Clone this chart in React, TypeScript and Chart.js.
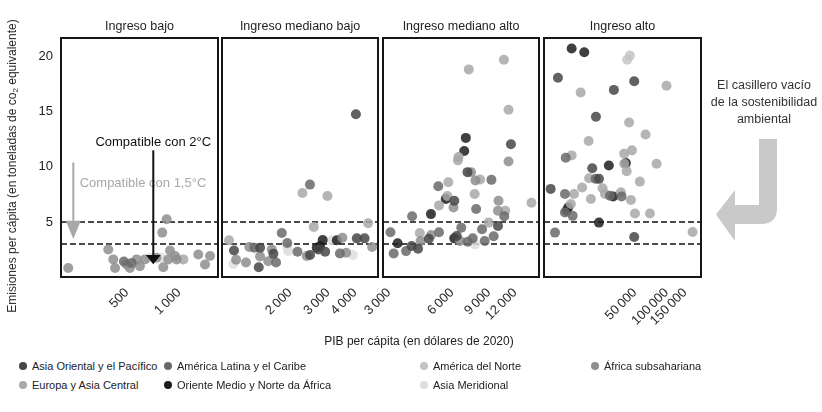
import React, { useEffect, useRef } from 'react';
import { Chart, registerables } from 'chart.js';
Chart.register(...registerables);

const FONT = '"Liberation Sans", Arial, Helvetica, sans-serif';

const REGIONS = [
  'Asia Oriental y el Pacífico',
  'América Latina y el Caribe',
  'América del Norte',
  'África subsahariana',
  'Europa y Asia Central',
  'Oriente Medio y Norte da África',
  'Asia Meridional',
];
const REGION_COLORS = ['#474747', '#6a6a6a', '#c4c4c4', '#8e8e8e', '#a8a8a8', '#1e1e1e', '#dedede'];

const PANEL_TITLES = ['Ingreso bajo', 'Ingreso mediano bajo', 'Ingreso mediano alto', 'Ingreso alto'];
const X_MIN = [208, 968, 2810, 6800];
const X_MAX = [1679, 5100, 15600, 213000];
const X_TICKS = [
  [500, 1000],
  [2000, 3000, 4000],
  [3000, 6000, 9000, 12000],
  [50000, 100000, 150000],
];
const Y_TICKS = [5, 10, 15, 20];
const Y_MIN = 0;
const Y_MAX = 21.7;
const THRESHOLDS = [3, 5];

// Ingreso bajo
const BAJO_GDP = [229, 848, 800, 390, 417, 427, 498, 532, 569, 520, 594, 635, 679, 740, 793, 811, 887, 867, 949, 969, 1059, 1292, 1510, 1413, 480];
const BAJO_EMI = [0.82, 5.25, 4.03, 2.5, 1.6, 0.82, 1.13, 1.28, 1.6, 0.82, 0.98, 1.6, 1.74, 1.75, 1.74, 0.89, 2.41, 1.6, 1.9, 1.6, 1.6, 2.05, 1.9, 1.13, 1.4];
const BAJO_REG = [3, 3, 3, 3, 3, 3, 3, 1, 3, 3, 3, 3, 6, 3, 6, 3, 3, 3, 3, 3, 4, 3, 3, 3, 1];

// Ingreso mediano bajo
const MBAJO_GDP = [4030, 2280, 2470, 2976, 2573, 4590, 4790, 1830, 1940, 1940, 1043, 1100, 1125, 1092, 1250, 1295, 1367, 1452, 1452, 1432, 1585, 1645, 1674, 1722, 1960, 2163, 2388, 2473, 2655, 2752, 2830, 2700, 2905, 3120, 3290, 3490, 3400, 3630, 3900, 4070, 4420];
const MBAJO_EMI = [14.77, 7.63, 8.39, 7.35, 4.55, 4.88, 2.72, 4.0, 3.08, 2.72, 3.33, 2.41, 1.56, 1.19, 1.32, 2.72, 2.65, 2.65, 1.87, 0.89, 1.44, 2.5, 2.1, 1.32, 2.35, 2.29, 1.9, 1.99, 2.65, 2.81, 3.36, 2.5, 2.29, 3.33, 3.33, 3.57, 2.14, 2.2, 1.99, 3.51, 3.51];
const MBAJO_REG = [0, 4, 1, 4, 4, 4, 3, 1, 1, 6, 4, 0, 3, 6, 3, 3, 1, 0, 3, 0, 3, 3, 0, 1, 6, 1, 3, 0, 5, 5, 5, 0, 0, 6, 5, 3, 1, 3, 6, 0, 0];

// Ingreso mediano alto
const MALTO_GDP = [10610, 7210, 11160, 11460, 6980, 6860, 6440, 6400, 11160, 7110, 7390, 7760, 8170, 9250, 5760, 5160, 7690, 5700, 5600, 5200, 6150, 6100, 7820, 10000, 9940, 10770, 10650, 14360, 4760, 3870, 3050, 4210, 3300, 3160, 3620, 3850, 4130, 4250, 4650, 4770, 5200, 6150, 6320, 6640, 6560, 7130, 7530, 7730, 8340, 8970, 8590, 9480, 9940];
const MALTO_EMI = [19.73, 18.85, 15.19, 12.05, 12.63, 11.44, 10.89, 10.59, 10.49, 9.52, 9.52, 8.76, 8.85, 8.82, 8.6, 8.24, 7.54, 7.36, 7.08, 6.5, 6.93, 6.31, 6.17, 6.93, 6.01, 6.01, 5.52, 6.74, 5.71, 5.52, 4.06, 4.0, 3.06, 2.14, 2.35, 2.81, 2.56, 3.27, 3.48, 3.81, 4.06, 3.51, 3.72, 4.48, 3.27, 3.2, 3.51, 2.96, 4.34, 4.94, 3.27, 3.7, 4.64];
const MALTO_REG = [4, 4, 4, 0, 5, 5, 4, 4, 3, 0, 3, 3, 4, 1, 4, 1, 4, 4, 5, 4, 0, 3, 1, 3, 3, 4, 1, 4, 5, 1, 1, 4, 5, 1, 1, 0, 0, 3, 0, 3, 1, 5, 0, 1, 3, 1, 1, 6, 1, 4, 1, 1, 0];

// Ingreso alto
const ALTO_GDP = [12470, 16450, 44800, 42200, 9230, 49200, 31500, 15200, 100000, 21250, 44000, 63100, 18100, 10950, 12470, 46800, 39500, 41000, 39500, 41700, 80400, 28200, 19600, 18300, 21100, 22700, 55700, 7870, 10760, 13130, 15700, 24600, 25900, 28900, 31000, 36750, 37300, 45800, 19040, 12270, 11560, 10760, 11160, 12740, 50000, 69500, 22700, 8650, 49200, 177000];
const ALTO_EMI = [20.74, 20.4, 20.1, 19.73, 18.09, 17.78, 16.99, 16.75, 17.36, 14.55, 14.03, 12.94, 12.35, 10.83, 11.04, 11.5, 11.2, 10.34, 10.28, 9.6, 10.28, 10.13, 9.88, 8.97, 8.91, 8.91, 8.66, 8.0, 7.54, 7.54, 8.12, 8.05, 7.54, 7.38, 7.32, 7.69, 7.32, 6.99, 7.08, 6.62, 6.31, 5.86, 6.01, 5.55, 5.76, 5.76, 4.94, 4.03, 3.63, 4.09];
const ALTO_REG = [5, 5, 2, 2, 0, 0, 0, 4, 4, 0, 4, 4, 4, 1, 4, 4, 4, 5, 4, 4, 4, 5, 0, 4, 1, 0, 4, 0, 1, 4, 4, 4, 4, 1, 5, 4, 1, 4, 4, 4, 5, 1, 5, 1, 4, 4, 5, 1, 0, 4];

const PANEL_GDP = [BAJO_GDP, MBAJO_GDP, MALTO_GDP, ALTO_GDP];
const PANEL_EMI = [BAJO_EMI, MBAJO_EMI, MALTO_EMI, ALTO_EMI];
const PANEL_REG = [BAJO_REG, MBAJO_REG, MALTO_REG, ALTO_REG];

// Annotations in the first panel (data coordinates)
const ANN_15_X = 245;
const ANN_15_TOP = 10.4;
const ANN_15_BASE = 5.1;
const ANN_15_TIP = 3.45;
const ANN_15_TEXT = 'Compatible con 1,5°C';
const ANN_15_TEXT_X = 619;
const ANN_15_TEXT_Y = 8.48;
const ANN_2_X = 710;
const ANN_2_TOP = 11.5;
const ANN_2_BASE = 2.0;
const ANN_2_TIP = 1.16;
const ANN_2_TEXT = 'Compatible con 2°C';
const ANN_2_TEXT_Y = 12.2;

// Panel canvas placement
const CANVAS_LEFT = [0, 182, 343, 504];
const CANVAS_PAD_LEFT = [0, 40, 40, 40];
const CANVAS_WIDTH = [230, 208, 208, 209];
const CANVAS_HEIGHT = 340;

function rgba(hex: string, a: number) {
  const n = parseInt(hex.slice(1), 16);
  return `rgba(${(n >> 16) & 255},${(n >> 8) & 255},${n & 255},${a})`;
}

function fmt(v: number) {
  const s = String(Math.round(v));
  return v >= 1000 ? s.replace(/\B(?=(\d{3})+(?!\d))/g, '\u2009') : s;
}

function drawArrow(ctx: any, x: number, yTop: number, yBase: number, yTip: number, color: string) {
  ctx.save();
  ctx.strokeStyle = color;
  ctx.fillStyle = color;
  ctx.lineWidth = 2;
  ctx.beginPath();
  ctx.moveTo(x, yTop);
  ctx.lineTo(x, yBase);
  ctx.stroke();
  ctx.beginPath();
  ctx.moveTo(x - 7.5, yBase);
  ctx.lineTo(x + 7.5, yBase);
  ctx.lineTo(x, yTip);
  ctx.closePath();
  ctx.fill();
  ctx.restore();
}

function Panel({ index }: { index: number }) {
  const ref = useRef<HTMLCanvasElement | null>(null);
  useEffect(() => {
    const first = index === 0;
    const gdp = PANEL_GDP[index];
    const emi = PANEL_EMI[index];
    const reg = PANEL_REG[index];
    const datasets = REGIONS.map((name, r) => ({
      label: name,
      data: gdp
        .map((g, i) => ({ x: g, y: emi[i], r: reg[i] }))
        .filter((p) => p.r === r)
        .map((p) => ({ x: p.x, y: p.y })),
      backgroundColor: rgba(REGION_COLORS[r], 0.85),
      borderWidth: 0,
      pointRadius: 5,
      pointHoverRadius: 5,
    }));

    const decor = {
      id: 'decor',
      beforeDatasetsDraw(chart: any) {
        const { ctx, chartArea: a, scales } = chart;
        ctx.save();
        ctx.setLineDash([6, 3]);
        ctx.lineWidth = 1.6;
        ctx.strokeStyle = '#111';
        THRESHOLDS.forEach((t) => {
          const y = scales.y.getPixelForValue(t);
          ctx.beginPath();
          ctx.moveTo(a.left, y);
          ctx.lineTo(a.right, y);
          ctx.stroke();
        });
        ctx.restore();
      },
      afterDatasetsDraw(chart: any) {
        const { ctx, chartArea: a, scales } = chart;
        const xs = scales.x;
        const ys = scales.y;
        if (first) {
          ctx.save();
          ctx.font = `13px ${FONT}`;
          ctx.textAlign = 'center';
          ctx.textBaseline = 'middle';
          ctx.fillStyle = '#a8a8a8';
          ctx.fillText(ANN_15_TEXT, xs.getPixelForValue(ANN_15_TEXT_X), ys.getPixelForValue(ANN_15_TEXT_Y));
          ctx.fillStyle = '#111';
          ctx.fillText(ANN_2_TEXT, xs.getPixelForValue(ANN_2_X), ys.getPixelForValue(ANN_2_TEXT_Y));
          ctx.restore();
          drawArrow(ctx, xs.getPixelForValue(ANN_15_X), ys.getPixelForValue(ANN_15_TOP), ys.getPixelForValue(ANN_15_BASE), ys.getPixelForValue(ANN_15_TIP), '#a8a8a8');
          drawArrow(ctx, xs.getPixelForValue(ANN_2_X), ys.getPixelForValue(ANN_2_TOP), ys.getPixelForValue(ANN_2_BASE), ys.getPixelForValue(ANN_2_TIP), '#111');
        }
        ctx.save();
        ctx.lineWidth = 2;
        ctx.strokeStyle = '#161616';
        ctx.strokeRect(a.left, a.top, a.right - a.left, a.bottom - a.top);
        ctx.font = `12.5px ${FONT}`;
        ctx.textAlign = 'center';
        ctx.textBaseline = 'middle';
        ctx.fillStyle = '#222';
        ctx.fillText(PANEL_TITLES[index], (a.left + a.right) / 2, a.top - 11);
        ctx.restore();
      },
    };

    const chart = new Chart(ref.current as HTMLCanvasElement, {
      type: 'scatter',
      data: { datasets },
      options: {
        animation: false,
        responsive: false,
        devicePixelRatio: 1,
        events: [],
        layout: { padding: { top: 38, bottom: 13, left: CANVAS_PAD_LEFT[index], right: 12 } },
        plugins: { legend: { display: false }, tooltip: { enabled: false }, title: { display: false } },
        scales: {
          x: {
            type: 'logarithmic',
            bounds: 'data',
            min: X_MIN[index],
            max: X_MAX[index],
            afterBuildTicks: (s: any) => {
              s.ticks = X_TICKS[index].map((v) => ({ value: v }));
            },
            afterFit: (s: any) => {
              s.height = 50;
              s.paddingLeft = 0;
              s.paddingRight = 0;
            },
            ticks: {
              autoSkip: false,
              minRotation: 45,
              maxRotation: 45,
              padding: 8,
              color: '#2a2a2a',
              font: { family: FONT, size: 13 },
              callback: (v: any) => fmt(Number(v)),
            },
            grid: { display: false, drawTicks: false },
            border: { display: false },
          },
          y: {
            type: 'linear',
            display: first,
            bounds: 'data',
            min: Y_MIN,
            max: Y_MAX,
            afterBuildTicks: (s: any) => {
              s.ticks = Y_TICKS.map((v) => ({ value: v }));
            },
            afterFit: (s: any) => {
              if (first) s.width = 61;
            },
            ticks: { padding: 8, color: '#222', font: { family: FONT, size: 13 } },
            grid: { display: false, drawTicks: false },
            border: { display: false },
          },
        },
      } as any,
      plugins: [decor],
    });
    return () => chart.destroy();
  }, [index]);
  return (
    <canvas
      ref={ref}
      width={CANVAS_WIDTH[index]}
      height={CANVAS_HEIGHT}
      style={{ position: 'absolute', left: CANVAS_LEFT[index], top: 0, width: CANVAS_WIDTH[index], height: CANVAS_HEIGHT }}
    />
  );
}

const LEGEND_COLS = [19, 164, 420, 591];
const LEGEND_ROWS = [366, 385];
const LEGEND_ORDER = [
  [0, 0, 0], [1, 1, 0], [2, 2, 0], [3, 3, 0],
  [4, 0, 1], [5, 1, 1], [6, 2, 1],
];

export default function App() {
  const text: any = { fontFamily: FONT, color: '#222', position: 'absolute', whiteSpace: 'nowrap', fontWeight: 'normal' };
  return (
    <div style={{ position: 'fixed', left: 0, top: 0, width: 822, height: 412, background: '#fff', overflow: 'hidden' }}>
      {PANEL_TITLES.map((_, i) => (
        <Panel key={i} index={i} />
      ))}
      <div
        style={{
          ...text,
          fontSize: 12,
          color: '#2a2a2a',
          left: 12 - 170,
          top: 166 - 7,
          width: 340,
          height: 14,
          lineHeight: '14px',
          textAlign: 'center',
          transform: 'rotate(-90deg)',
        }}
      >
        Emisiones per cápita (en toneladas de co<span style={{ fontSize: 8, verticalAlign: -2, lineHeight: '8px' }}>2</span> equivalente)
      </div>
      <div style={{ ...text, fontSize: 12, left: 419 - 150, width: 300, textAlign: 'center', top: 334, lineHeight: '14px' }}>
        PIB per cápita (en dólares de 2020)
      </div>
      {LEGEND_ORDER.map(([r, c, row]) => (
        <div key={r} style={{ ...text, fontSize: 11, left: LEGEND_COLS[c], top: LEGEND_ROWS[row] - 7, height: 14, lineHeight: '14px', display: 'flex', alignItems: 'center' }}>
          <span style={{ display: 'inline-block', width: 8, height: 8, borderRadius: 4, background: REGION_COLORS[r], marginRight: 5 }} />
          {REGIONS[r]}
        </div>
      ))}
      <div style={{ ...text, fontSize: 12.5, left: 764 - 60, width: 120, top: 77, textAlign: 'center', lineHeight: '17px', color: '#333' }}>
        El casillero vacío
        <br />
        de la sostenibilidad
        <br />
        ambiental
      </div>
      <svg width={822} height={412} style={{ position: 'absolute', left: 0, top: 0 }}>
        <path
          d="M759,139 L777,139 L777,208 Q777,224 761,224 L735,224 L735,241 L716,214.5 L735,190 L735,205 L759,205 Z"
          fill="#c9c9c9"
        />
      </svg>
    </div>
  );
}
